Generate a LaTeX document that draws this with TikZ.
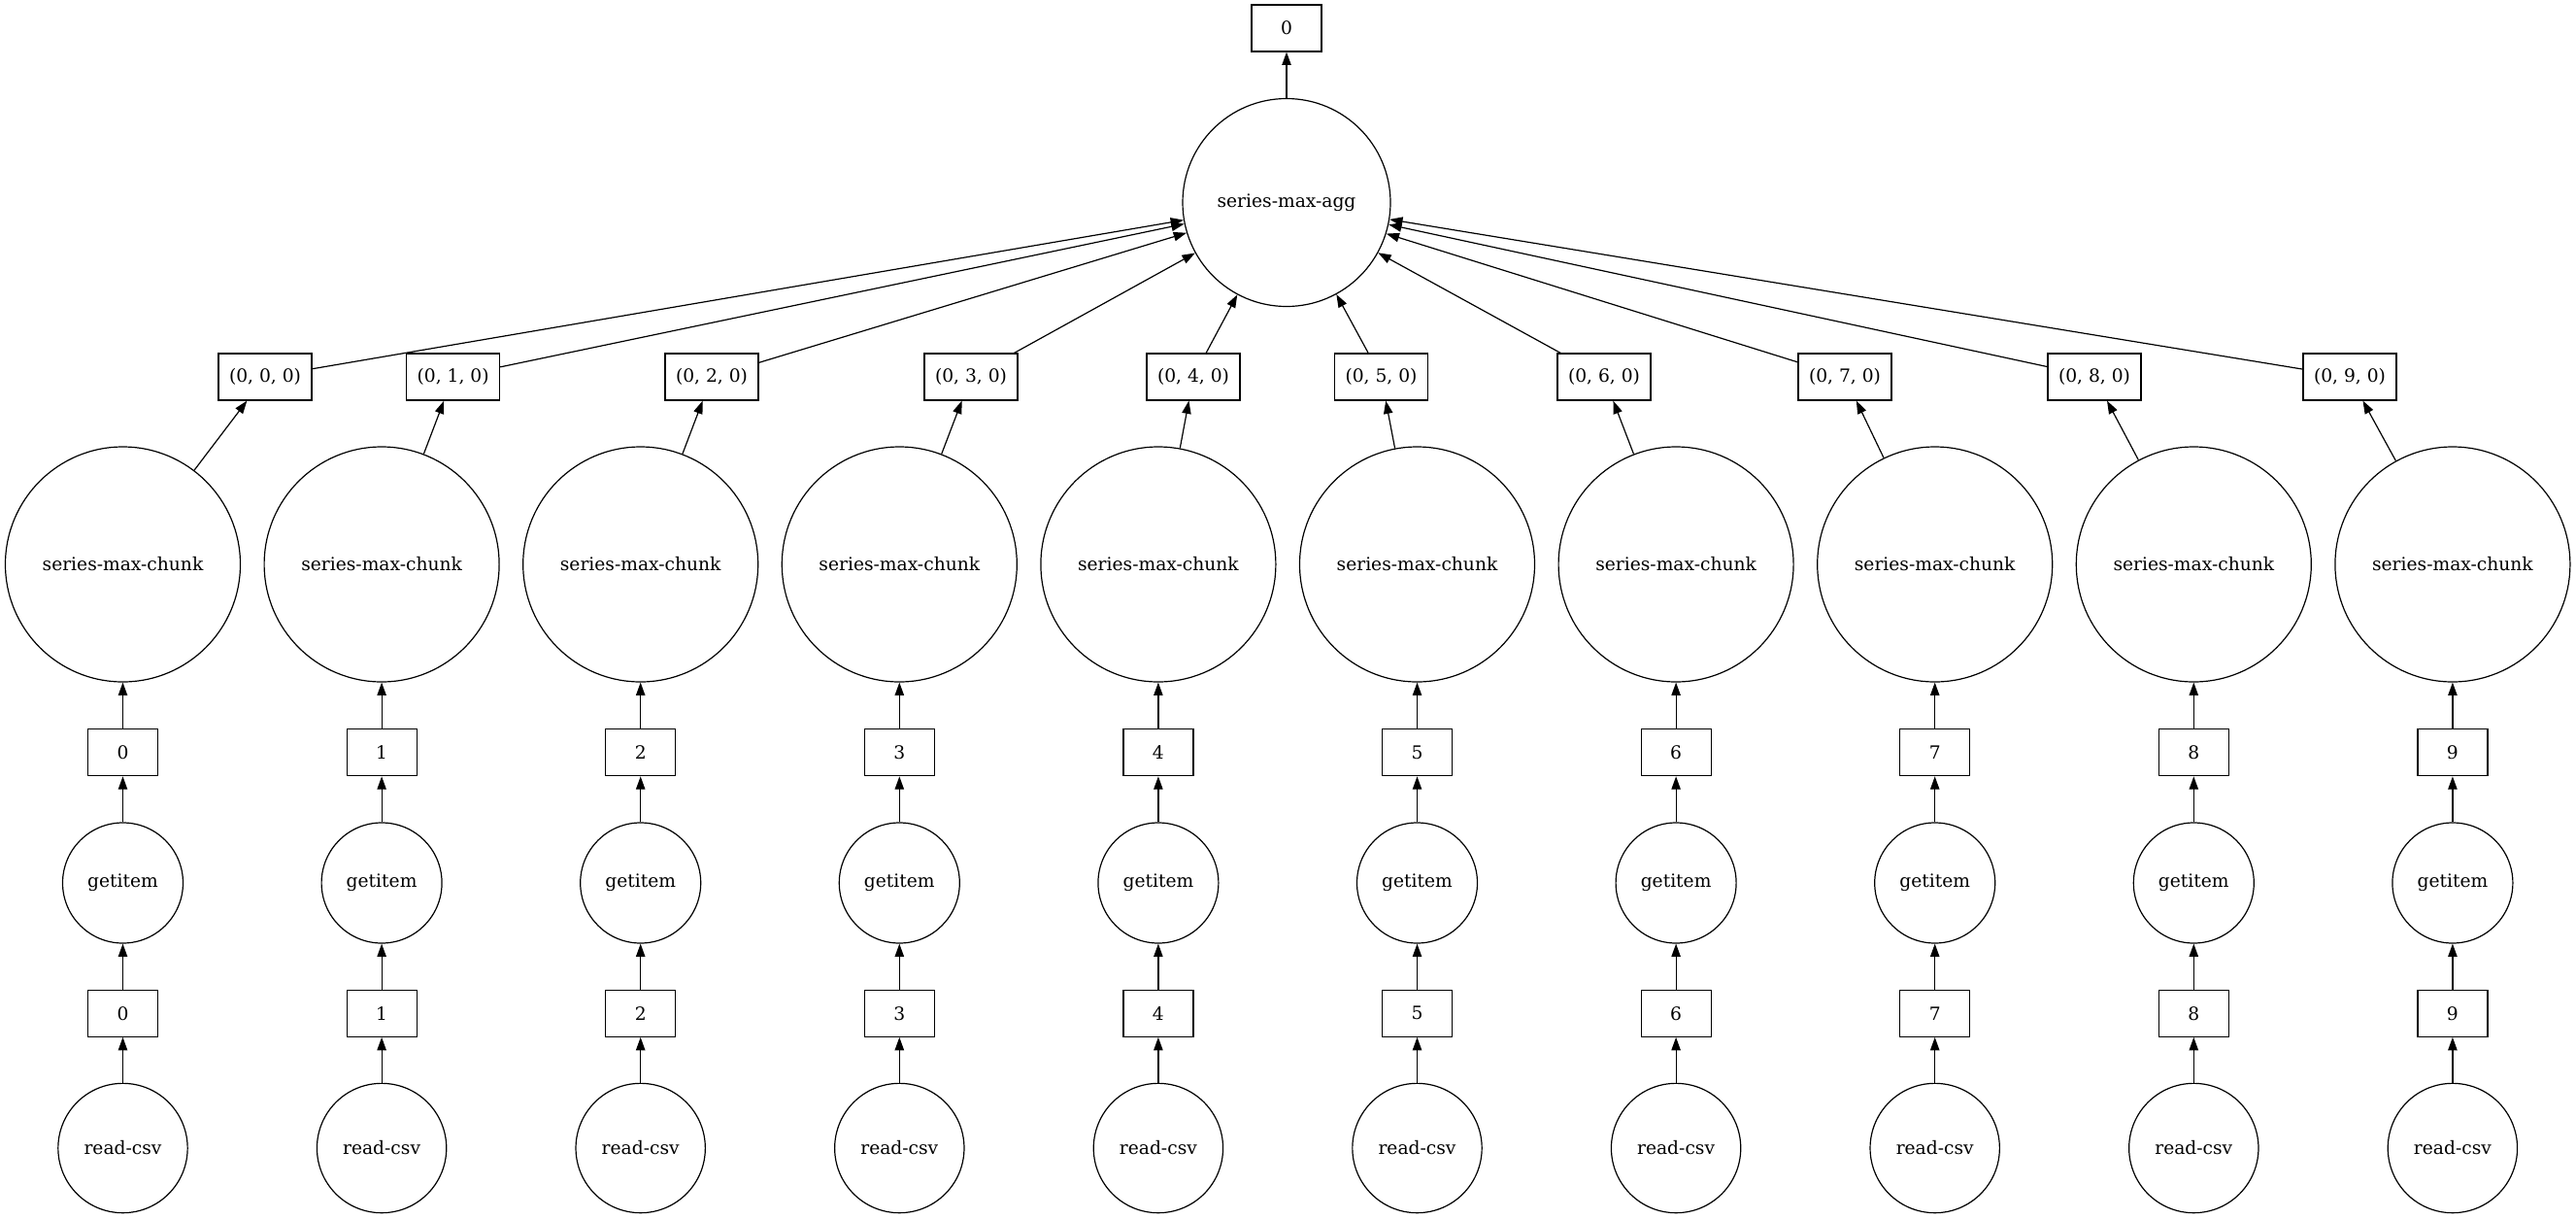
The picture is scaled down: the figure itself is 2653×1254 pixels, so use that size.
\documentclass[tikz,border=0pt]{standalone}
\usepackage{fontspec}
\setmainfont{DejaVu Serif}
\usetikzlibrary{arrows.meta}
\begin{document}
\begin{tikzpicture}[x=0.75pt,y=-0.75pt,
  every node/.style={font=\fontsize{14}{17}\selectfont, draw, line width=0.9pt, inner sep=0pt},
  boxnode/.style={rectangle, minimum width=54pt, minimum height=36pt},
  tuplebox/.style={rectangle, minimum width=72pt, minimum height=36pt},
  aggcirc/.style={circle, minimum size=160.5pt},
  chunkcirc/.style={circle, minimum size=181.5pt},
  getcirc/.style={circle, minimum size=93pt},
  csvcirc/.style={circle, minimum size=100pt},
  edge/.style={line width=0.9pt, -{Triangle[length=10pt,width=7pt]}}]
\useasboundingbox (0,0) rectangle (2653,1254);
\node[boxnode] (top) at (1325,29) {0};
\node[aggcirc] (agg) at (1325,208.5) {series-max-agg};
\draw[edge] (agg) -- (top);
\foreach \i/\tx in {0/273, 1/466.6, 2/733, 3/1000, 4/1229, 5/1422.5, 6/1652, 7/1900, 8/2157, 9/2420} {
  \pgfmathsetmacro\cx{126.5+266.6*\i}
  \node[tuplebox] (t\i) at (\tx,388) {(0, \i, 0)};
  \node[chunkcirc] (c\i) at (\cx,581) {series-max-chunk};
  \node[boxnode] (b\i) at (\cx,774.7) {\i};
  \node[getcirc] (g\i) at (\cx,909) {getitem};
  \node[boxnode] (l\i) at (\cx,1043.3) {\i};
  \node[csvcirc] (r\i) at (\cx,1182) {read-csv};
  \draw[edge] (r\i) -- (l\i);
  \draw[edge] (l\i) -- (g\i);
  \draw[edge] (g\i) -- (b\i);
  \draw[edge] (b\i) -- (c\i);
  \draw[edge] (c\i) -- (t\i);
  \draw[edge] (t\i) -- (agg);
}
\end{tikzpicture}
\end{document}
